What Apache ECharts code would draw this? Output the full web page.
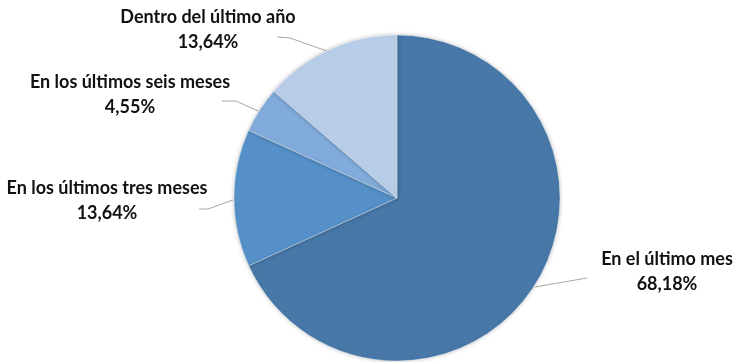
<!DOCTYPE html>
<html>
<head>
<meta charset="utf-8">
<script src="https://cdn.jsdelivr.net/npm/echarts@6/dist/echarts.min.js"></script>
<style>
  html, body { margin: 0; padding: 0; background: #fff; }
  #chart { width: 735px; height: 362px; }
</style>
</head>
<body>
<div id="chart"></div>
<script>
// Periodo de la última vez (porcentaje de respuestas)
const categories = ['En el último mes', 'En los últimos tres meses', 'En los últimos seis meses', 'Dentro del último año'];
const shares = [68.18, 13.64, 4.55, 13.64];
const sliceColors = ['#4778A8', '#5590C8', '#80ABDA', '#B8CDE8'];

// Label anchor positions (text centre) and leader line points per slice
const labelSpots = [
  { x: 667, y: 259, line: [[535, 287], [587, 278]] },
  { x: 107, y: 188, line: [[233, 200], [208, 209], [199, 209]] },
  { x: 130, y: 82,  line: [[258, 111], [236, 101], [222, 101]] },
  { x: 208, y: 17,  line: [[327, 51], [290, 38], [277, 37]] }
];

const fmt = v => v.toFixed(2).replace('.', ',') + '%';

const chart = echarts.init(document.getElementById('chart'), null, { renderer: 'canvas' });
chart.setOption({
  animation: false,
  series: [{
    type: 'pie',
    center: [397, 198],
    radius: 163,
    startAngle: 90,
    clockwise: true,
    data: categories.map((name, i) => ({
      name,
      value: shares[i],
      itemStyle: { color: sliceColors[i] }
    })),
    itemStyle: {
      borderColor: 'rgba(255,255,255,0.6)',
      borderWidth: 0.6,
      shadowBlur: 4,
      shadowColor: 'rgba(0,0,0,0.25)'
    },
    label: {
      show: true,
      formatter: p => p.name + '\n' + fmt(p.value),
      fontFamily: 'Lato',
      fontWeight: 'bold',
      fontSize: 18,
      lineHeight: 25,
      color: '#111',
      align: 'center',
      overflow: 'none',
      width: 260
    },
    labelLine: {
      show: true,
      lineStyle: { color: '#a6a6a6', width: 1 }
    },
    labelLayout: function (params) {
      const s = labelSpots[params.dataIndex];
      return {
        x: s.x,
        y: s.y - 12,
        align: 'center',
        verticalAlign: 'top',
        labelLinePoints: s.line
      };
    }
  }]
});
</script>
</body>
</html>
